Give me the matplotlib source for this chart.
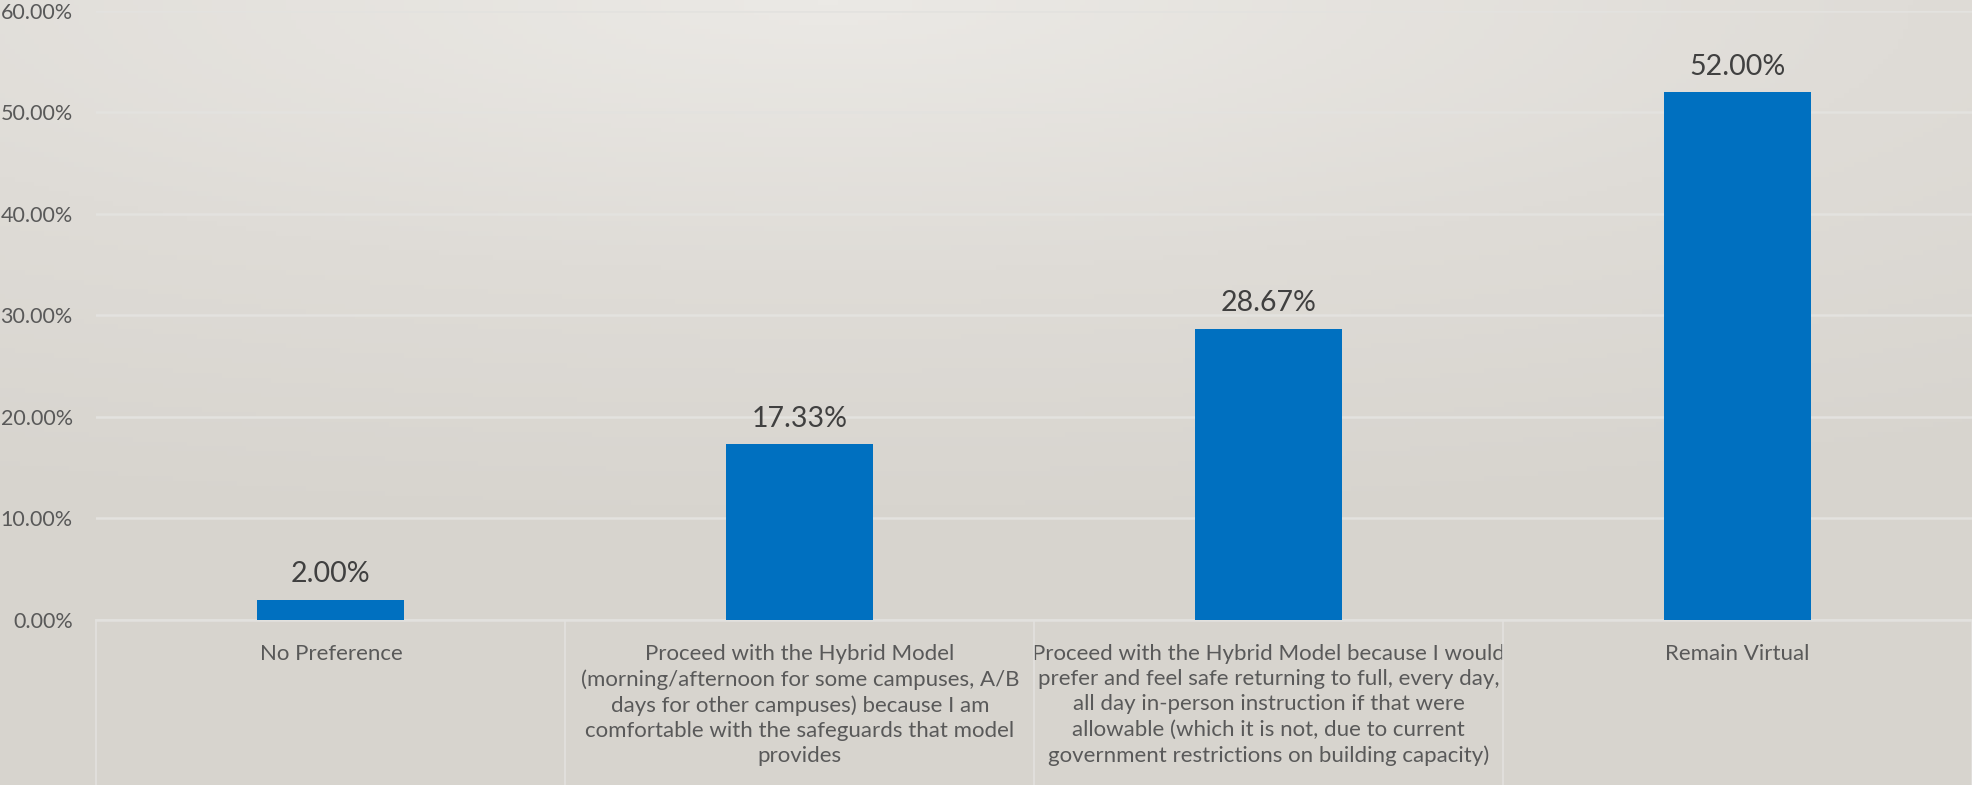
import numpy as np
import matplotlib.pyplot as plt
from matplotlib.colors import LinearSegmentedColormap
from matplotlib.transforms import blended_transform_factory

# survey responses
categories = [
    "No Preference",
    "Proceed with the Hybrid Model\n(morning/afternoon for some campuses, A/B\ndays for other campuses) because I am\ncomfortable with the safeguards that model\nprovides",
    "Proceed with the Hybrid Model because I would\nprefer and feel safe returning to full, every day,\nall day in-person instruction if that were\nallowable (which it is not, due to current\ngovernment restrictions on building capacity)",
    "Remain Virtual",
]
shares = [2.00, 17.33, 28.67, 52.00]
y_ticks = [0, 10, 20, 30, 40, 50, 60]

plt.rcParams['font.family'] = ['Lato', 'DejaVu Sans']

fig = plt.figure(figsize=(19.72, 7.85), dpi=100)

# soft grey slide background, lighter towards the top middle
bg = fig.add_axes([0, 0, 1, 1], zorder=0)
gx, gy = np.meshgrid(np.linspace(0, 1, 400), np.linspace(0, 1, 160))
dist = np.sqrt((gx - 0.42) ** 2 + ((gy - 1.0) * 1.6) ** 2)
cmap = LinearSegmentedColormap.from_list('slide', ['#ebe9e5', '#dfdcd7', '#d7d4ce'])
bg.imshow(dist, cmap=cmap, origin='lower', aspect='auto', extent=[0, 1, 0, 1],
          vmin=0, vmax=1.1)
bg.axis('off')

ax = fig.add_axes([0.0489, 0.2102, 0.9511, 0.7758], zorder=1)
ax.patch.set_alpha(0)

x = np.arange(len(categories))
bars = ax.bar(x, shares, width=0.313, color='#0070C0', zorder=3)

for rect, v in zip(bars, shares):
    ax.annotate(f"{v:.2f}%", (rect.get_x() + rect.get_width() / 2, v),
                xytext=(0, 9), textcoords='offset points',
                ha='center', va='bottom', fontsize=20.5, color='#404040')

ax.set_xlim(-0.5, len(categories) - 0.5)
ax.set_ylim(0, 60)
ax.set_yticks(y_ticks)
ax.set_yticklabels([f"{t:.2f}%" for t in y_ticks])
ax.yaxis.grid(True, color='#e3e2df', linewidth=1.8, zorder=0)
ax.set_axisbelow(True)

ax.set_xticks(x)
ax.set_xticklabels(categories, fontsize=16, color='#595959', linespacing=1.33)
ax.tick_params(axis='x', length=0, pad=17)
ax.tick_params(axis='y', length=0, pad=17, labelsize=15.5, labelcolor='#595959')

for s in ['top', 'right', 'left']:
    ax.spines[s].set_visible(False)
ax.spines['bottom'].set_color('#e2e1de')
ax.spines['bottom'].set_linewidth(1.8)

# long category dividers under the axis
trans = blended_transform_factory(ax.transData, ax.transAxes)
for b in np.arange(-0.5, len(categories), 1.0):
    ax.plot([b, b], [0, -0.3], transform=trans, color='#e2e1de',
            linewidth=1.2, clip_on=False, zorder=1)

fig.savefig('out.png', dpi=100)
